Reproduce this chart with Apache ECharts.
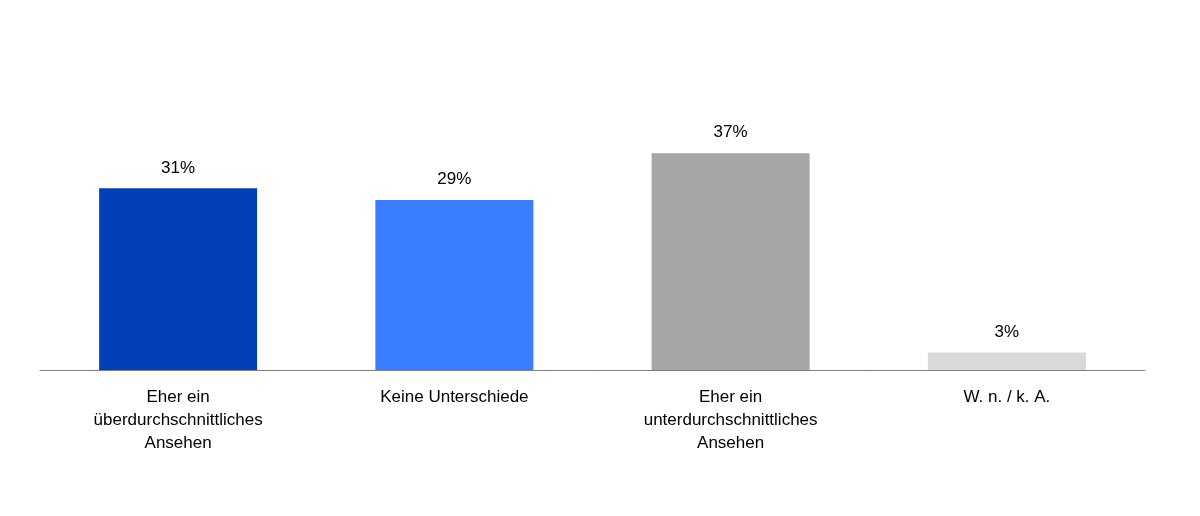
<!DOCTYPE html>
<html><head><meta charset="utf-8">
<script src="https://cdn.jsdelivr.net/npm/echarts@6/dist/echarts.min.js"></script>
<style>html,body{margin:0;background:#fff}#c{width:1200px;height:516px}</style>
</head><body><div id="c"></div>
<script>
var categories = ['Eher ein\nüberdurchschnittliches\nAnsehen', 'Keine Unterschiede', 'Eher ein\nunterdurchschnittliches\nAnsehen', 'W. n. / k. A.'];
var values = [31, 29, 37, 3];
var colors = ['#033FB8', '#3A7DFF', '#A6A6A6', '#D9D9D9'];

var myChart = echarts.init(document.getElementById('c'));
myChart.setOption({
    animation: false,
    grid: {left: 40, right: 55, top: 77, bottom: 146},
    xAxis: {
        type: 'category', data: categories,
        axisLine: {lineStyle: {color: '#808080'}},
        axisTick: {show: false},
        axisLabel: {color: '#000', fontFamily: 'Liberation Sans', fontSize: 17, lineHeight: 23, margin: 16, interval: 0}
    },
    yAxis: {type: 'value', min: 0, max: 50, show: false},
    series: [{
        type: 'bar', barWidth: 158,
        data: values.map(function (v, i) { return {value: v, itemStyle: {color: colors[i]}}; }),
        label: {show: true, position: 'top', distance: 12, formatter: '{c}%', color: '#000', fontFamily: 'Liberation Sans', fontSize: 17}
    }]
});
</script></body></html>
